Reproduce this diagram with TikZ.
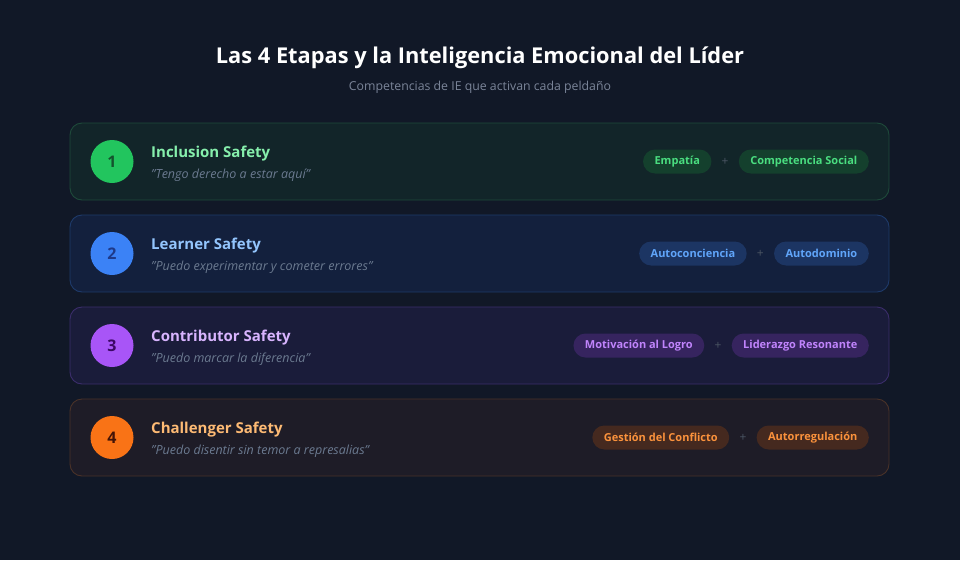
\documentclass[tikz,border=0pt]{standalone}
\usepackage{fontspec}
\setmainfont{Open Sans}
\usetikzlibrary{positioning}
\definecolor{bg}{HTML}{111827}
\definecolor{subgray}{HTML}{7B8599}
\definecolor{quotegray}{HTML}{6B7A90}
\definecolor{plusgray}{HTML}{4B5563}
% stage 1 green
\definecolor{gFill}{HTML}{122529}
\definecolor{gLine}{HTML}{1E4A3A}
\definecolor{gCirc}{HTML}{22C55E}
\definecolor{gNum}{HTML}{14532D}
\definecolor{gTitle}{HTML}{86EFAC}
\definecolor{gPill}{HTML}{14402D}
\definecolor{gPillT}{HTML}{4ADE80}
% stage 2 blue
\definecolor{bFill}{HTML}{13203D}
\definecolor{bLine}{HTML}{1E3A6A}
\definecolor{bCirc}{HTML}{3B82F6}
\definecolor{bNum}{HTML}{1E3A8A}
\definecolor{bTitle}{HTML}{93C5FD}
\definecolor{bPill}{HTML}{1C3563}
\definecolor{bPillT}{HTML}{60A5FA}
% stage 3 purple
\definecolor{pFill}{HTML}{1A1C3A}
\definecolor{pLine}{HTML}{3B2D6B}
\definecolor{pCirc}{HTML}{A855F7}
\definecolor{pNum}{HTML}{3B0764}
\definecolor{pTitle}{HTML}{D8B4FE}
\definecolor{pPill}{HTML}{36245F}
\definecolor{pPillT}{HTML}{C084FC}
% stage 4 orange
\definecolor{oFill}{HTML}{1E1C27}
\definecolor{oLine}{HTML}{4A3228}
\definecolor{oCirc}{HTML}{F97316}
\definecolor{oNum}{HTML}{431407}
\definecolor{oTitle}{HTML}{FDBA74}
\definecolor{oPill}{HTML}{45291F}
\definecolor{oPillT}{HTML}{FB923C}
\tikzset{
  card/.style={rounded corners=12pt, line width=0.9pt, minimum width=819pt, minimum height=77pt, inner sep=0pt},
  numcirc/.style={circle, minimum size=43pt, inner sep=0pt, font=\fontsize{16}{18}\selectfont\bfseries},
  stitle/.style={anchor=base west, inner sep=0pt, font=\fontsize{15}{18}\selectfont\bfseries},
  squote/.style={anchor=base west, inner sep=0pt, text=quotegray, font=\fontsize{12.5}{14}\selectfont\itshape},
  pill/.style={rounded corners=12pt, minimum height=24pt, inner xsep=11.5pt, inner ysep=0pt, font=\fontsize{11}{12}\selectfont\bfseries},
  plusnode/.style={inner sep=0pt, text=plusgray, font=\fontsize{12}{14}\selectfont},
}
\newcommand{\stagecard}[7]{%
  % #1 index, #2 y-centre, #3 colour prefix, #4 title, #5 quote, #6 pill A, #7 pill B
  \node[card, fill=#3Fill, draw=#3Line] (card#1) at (479.5,#2) {};
  \node[numcirc, fill=#3Circ, text=#3Num] (circ#1) at (112,#2) {#1};
  \node[stitle, text=#3Title] (title#1) at (151,#2-4.5) {#4};
  \node[squote] (quote#1) at (151,#2+17) {\symbol{34}#5\symbol{34}};
  \node[pill, anchor=east, fill=#3Pill, text=#3PillT] (pb#1) at (869,#2) {#7};
  \node[plusnode] (plus#1) at ([xshift=-13.5pt]pb#1.west) {+};
  \node[pill, anchor=east, fill=#3Pill, text=#3PillT] (pa#1) at ([xshift=-13.5pt]plus#1.center) {#6};
}
\begin{document}
\begin{tikzpicture}[x=1pt,y=-1pt]
\fill[bg] (0,0) rectangle (960,560);
\useasboundingbox (0,0) rectangle (960,560);
\node[anchor=base, inner sep=0pt, text=white, font=\fontsize{21.8}{25}\selectfont\bfseries] (maintitle) at (480,63.5) {Las 4 Etapas y la Inteligencia Emocional del Líder};
\node[anchor=base, inner sep=0pt, text=subgray, font=\fontsize{12.3}{14}\selectfont] (subtitle) at (480,90) {Competencias de IE que activan cada peldaño};
\stagecard{1}{161.5}{g}{Inclusion Safety}{Tengo derecho a estar aquí}{Empatía}{Competencia Social}
\stagecard{2}{253.5}{b}{Learner Safety}{Puedo experimentar y cometer errores}{Autoconciencia}{Autodominio}
\stagecard{3}{345.5}{p}{Contributor Safety}{Puedo marcar la diferencia}{Motivación al Logro}{Liderazgo Resonante}
\stagecard{4}{437.5}{o}{Challenger Safety}{Puedo disentir sin temor a represalias}{Gestión del Conflicto}{Autorregulación}
\end{tikzpicture}
\end{document}
